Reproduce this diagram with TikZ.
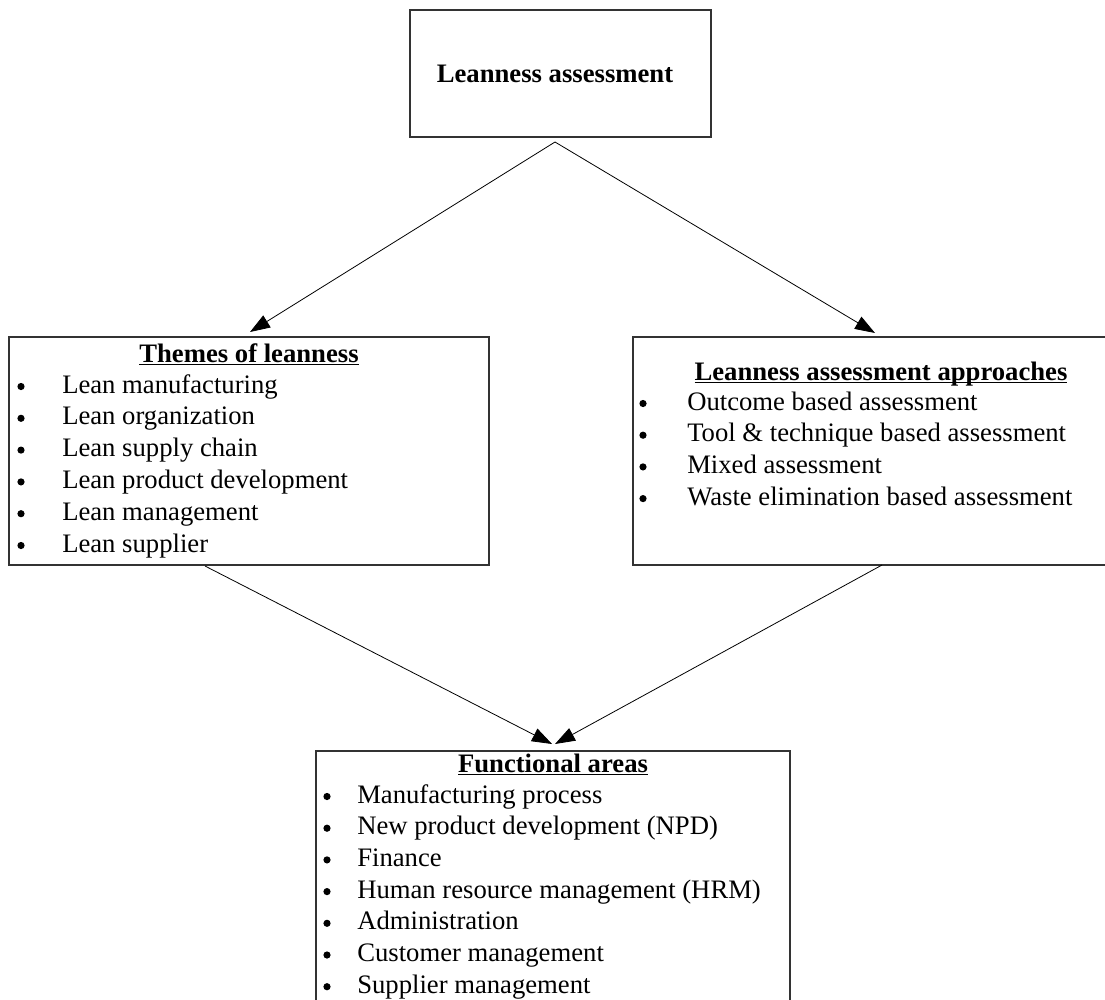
\documentclass[tikz,border=0pt]{standalone}
\usepackage{fontspec}
\setmainfont{Liberation Serif}
\usetikzlibrary{arrows.meta}
\newcommand\myul[1]{\setbox0\hbox{#1}\rlap{\rule[-2.6pt]{\wd0}{1.1pt}}\box0}
\begin{document}
\begin{tikzpicture}[x=0.75pt,y=-0.75pt,
  box/.style={draw=black!80, line width=0.9pt, inner sep=0pt},
  txt/.style={inner sep=0pt, font=\fontsize{20}{24}\selectfont},
  item/.style={txt, anchor=base west},
  dot/.style={circle, fill=black, inner sep=0pt, minimum size=5.4pt},
  ttl/.style={txt, anchor=base, font=\fontsize{20}{24}\selectfont\bfseries},
  conn/.style={-{Triangle[length=15pt,width=10.5pt]}, line width=0.6pt}]
\useasboundingbox (0,0) rectangle (1105,999);
\begin{scope}
\clip (0,0) rectangle (1105,999);
% boxes
\node[box, minimum width=225.75pt, minimum height=95.25pt] (top) at (560.5,73.5) {};
\node[box, minimum width=360pt, minimum height=171pt] (themes) at (249,451) {};
\node[box, minimum width=360pt, minimum height=171pt] (appr) at (873,451) {};
\node[box, minimum width=355.5pt, minimum height=194.25pt] (func) at (553,880.5) {};
\end{scope}
% titles
\node[ttl] (ttop) at (555,82) {Leanness assessment};
\node[ttl] (tthemes) at (249,362) {\myul{Themes of leanness}};
\node[ttl] (tappr) at (881,380) {\myul{Leanness assessment approaches}};
\node[ttl] (tfunc) at (553,772) {\myul{Functional areas}};
% themes items
\foreach \t [count=\i from 0] in {Lean manufacturing,Lean organization,Lean supply chain,Lean product development,Lean management,Lean supplier}{
  \node[dot] (tb\i) at (21,393+31.8*\i-6.5) {};
  \node[item] (ti\i) at (62,393+31.8*\i) {\t};
}
% approaches items
\foreach \t [count=\i from 0] in {Outcome based assessment,Tool \& technique based assessment,Mixed assessment,Waste elimination based assessment}{
  \node[dot] (ab\i) at (643,410+31.7*\i-6.5) {};
  \node[item] (ai\i) at (687,410+31.7*\i) {\t};
}
% functional items
\foreach \t [count=\i from 0] in {Manufacturing process,New product development (NPD),Finance,Human resource management (HRM),Administration,Customer management,Supplier management}{
  \node[dot] (fb\i) at (327,803+31.7*\i-6.5) {};
  \node[item] (fi\i) at (357,803+31.7*\i) {\t};
}
% connectors
\coordinate (apex) at (555,142);
\coordinate (tipL) at (250,332);
\coordinate (tipR) at (875,333);
\coordinate (srcL) at (205,566);
\coordinate (srcR) at (882,565);
\coordinate (tipF1) at (552,744);
\coordinate (tipF2) at (555,744);
\draw[conn] (apex) -- (tipL);
\draw[conn] (apex) -- (tipR);
\draw[conn] (srcL) -- (tipF1);
\draw[conn] (srcR) -- (tipF2);
\end{tikzpicture}
\end{document}
